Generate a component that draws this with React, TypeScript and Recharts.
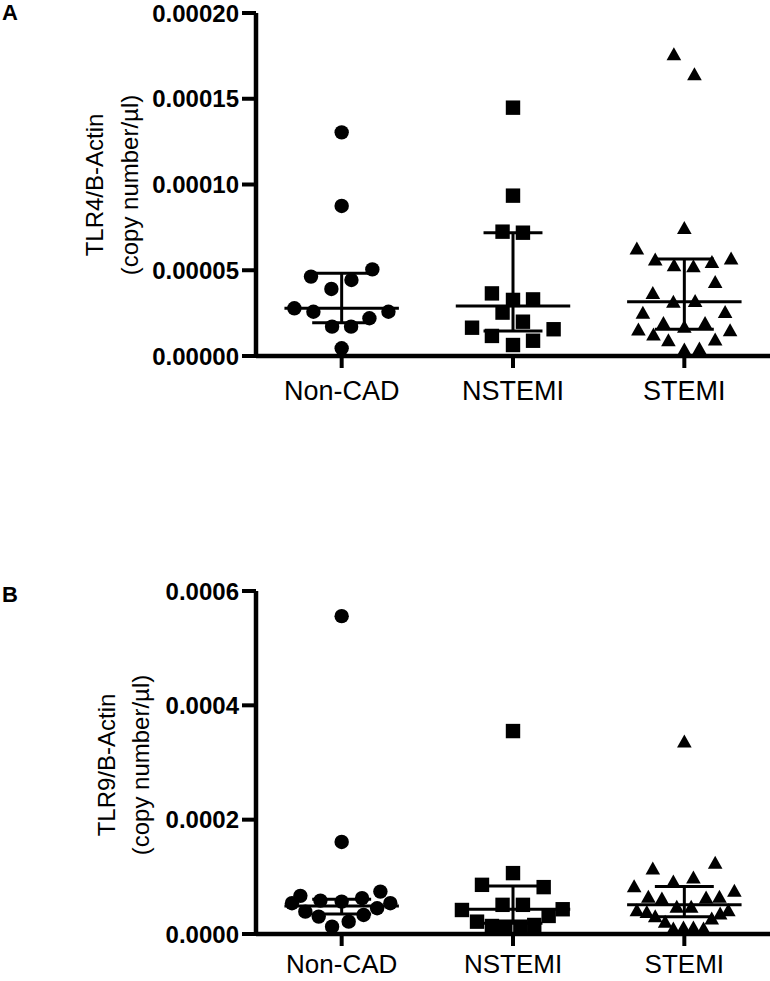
import React from 'react';
import { ScatterChart, Scatter, XAxis, YAxis, ReferenceLine } from 'recharts';

const FONT = '"Liberation Sans", Arial, Helvetica, sans-serif';

const categories = ['Non-CAD', 'NSTEMI', 'STEMI'];

// Panel A: TLR4/B-Actin
const tlr4Ticks = [0, 0.00005, 0.0001, 0.00015, 0.0002];
const tlr4NonCad = [13.04e-5, 8.75e-5, 5.05e-5, 4.63e-5, 4.43e-5, 3.91e-5, 2.78e-5, 2.58e-5, 2.58e-5, 2.2e-5, 1.71e-5, 1.71e-5, 0.45e-5];
const tlr4NonCadJitter = [0, 0, 0.179, -0.179, 0.057, -0.06, -0.276, -0.165, 0.273, 0.162, -0.056, 0.055, 0];
const tlr4Nstemi = [14.48e-5, 9.35e-5, 7.25e-5, 7.19e-5, 3.65e-5, 3.27e-5, 3.3e-5, 2.53e-5, 2.0e-5, 1.65e-5, 1.56e-5, 1.17e-5, 0.89e-5, 0.64e-5];
const tlr4NstemiJitter = [0, 0, -0.061, 0.058, -0.123, 0, 0.117, -0.061, 0.058, -0.239, 0.237, -0.123, 0.117, 0];
const tlr4Stemi = [17.61e-5, 16.44e-5, 7.48e-5, 6.28e-5, 5.64e-5, 5.31e-5, 5.25e-5, 5.5e-5, 5.7e-5, 4.33e-5, 3.69e-5, 3.17e-5, 3.22e-5, 2.53e-5, 2.58e-5, 1.94e-5, 1.94e-5, 1.71e-5, 1.56e-5, 1.27e-5, 1.52e-5, 0.93e-5, 0.97e-5, 0.39e-5, 0.45e-5];
const tlr4StemiJitter = [-0.061, 0.059, 0, -0.277, -0.17, -0.06, 0.053, 0.161, 0.273, 0.18, -0.184, -0.064, 0.063, -0.242, 0.238, -0.122, 0.121, 0, -0.268, -0.18, 0.267, -0.093, 0.18, 0, 0.088];
const tlr4Median = [2.78e-5, 2.92e-5, 3.17e-5];
const tlr4Q1 = [1.94e-5, 1.46e-5, 1.56e-5];
const tlr4Q3 = [4.82e-5, 7.19e-5, 5.66e-5];

// Panel B: TLR9/B-Actin
const tlr9Ticks = [0, 0.0002, 0.0004, 0.0006];
const tlr9NonCad = [5.56e-4, 1.61e-4, 0.667e-4, 0.539e-4, 0.391e-4, 0.304e-4, 0.128e-4, 0.216e-4, 0.333e-4, 0.451e-4, 0.539e-4, 0.742e-4, 0.626e-4, 0.567e-4, 0.584e-4];
const tlr9NonCadJitter = [0, 0, -0.241, -0.29, -0.212, -0.134, -0.056, 0.041, 0.128, 0.207, 0.284, 0.226, 0.119, 0, -0.124];
const tlr9Nstemi = [3.55e-4, 1.065e-4, 0.86e-4, 0.82e-4, 0.42e-4, 0.51e-4, 0.51e-4, 0.433e-4, 0.316e-4, 0.216e-4, 0.14e-4, 0.128e-4, 0.128e-4, 0.158e-4];
const tlr9NstemiJitter = [0, 0, -0.181, 0.179, -0.298, -0.061, 0.058, 0.29, 0.208, -0.21, -0.123, -0.045, 0.043, 0.124];
const tlr9Stemi = [3.37e-4, 1.25e-4, 1.15e-4, 0.84e-4, 0.92e-4, 0.99e-4, 0.76e-4, 0.654e-4, 0.626e-4, 0.644e-4, 0.654e-4, 0.42e-4, 0.39e-4, 0.48e-4, 0.48e-4, 0.42e-4, 0.316e-4, 0.216e-4, 0.363e-4, 0.275e-4, 0.1e-4, 0.118e-4, 0.118e-4, 0.1e-4];
const tlr9StemiJitter = [0, 0.18, -0.184, -0.293, -0.064, 0.053, 0.292, -0.21, -0.131, 0.127, 0.205, -0.277, -0.219, -0.044, 0.04, 0.257, -0.17, -0.112, 0.209, 0.16, -0.064, -0.005, 0.053, 0.112];
const tlr9Median = [0.49e-4, 0.433e-4, 0.51e-4];
const tlr9Q1 = [0.35e-4, 0.19e-4, 0.3e-4];
const tlr9Q3 = [0.61e-4, 0.84e-4, 0.83e-4];

const toPoints = (vals: number[], jit: number[], group: number) =>
  vals.map((v, i) => ({ x: group + 0.5 + jit[i], y: v }));

const CircleShape = (p: any) => <circle cx={p.cx} cy={p.cy} r={7.2} fill="#000" />;
const SquareShape = (p: any) => <rect x={p.cx - 7.2} y={p.cy - 7.2} width={14.4} height={14.4} fill="#000" />;
const TriangleShape = (p: any) => (
  <polygon points={`${p.cx},${p.cy - 6.8} ${p.cx + 7.3},${p.cy + 6.2} ${p.cx - 7.3},${p.cy + 6.2}`} fill="#000" />
);

const shapes = [CircleShape, SquareShape, TriangleShape];

type PanelProps = {
  groups: { vals: number[]; jit: number[] }[];
  ticks: number[];
  digits: number;
  median: number[];
  q1: number[];
  q3: number[];
  xTickMargin: number;
  xFontSize: number;
  chartHeight: number;
  xAxisHeight: number;
};

const Panel = ({ groups, ticks, digits, median, q1, q3, xTickMargin, xFontSize, chartHeight, xAxisHeight }: PanelProps) => {
  const lines: { x1: number; x2: number; y1: number; y2: number }[] = [];
  for (let g = 0; g < 3; g++) {
    const c = g + 0.5;
    lines.push({ x1: c - 0.334, x2: c + 0.334, y1: median[g], y2: median[g] });
    lines.push({ x1: c - 0.172, x2: c + 0.172, y1: q1[g], y2: q1[g] });
    lines.push({ x1: c - 0.172, x2: c + 0.172, y1: q3[g], y2: q3[g] });
    lines.push({ x1: c, x2: c, y1: q1[g], y2: q3[g] });
  }
  return (
    <ScatterChart width={770} height={chartHeight} margin={{ top: 13, right: 0, bottom: 0, left: 0 }}>
      <XAxis
        type="number"
        dataKey="x"
        domain={[0, 3]}
        ticks={[0.5, 1.5, 2.5]}
        interval={0}
        height={xAxisHeight}
        tickFormatter={(v: number) => categories[Math.floor(v)]}
        axisLine={{ stroke: '#000', strokeWidth: 4.5 }}
        tickLine={{ stroke: '#000', strokeWidth: 4 }}
        tickSize={12}
        tickMargin={xTickMargin}
        tick={{ fill: '#000', fontSize: xFontSize, fontFamily: FONT }}
      />
      <YAxis
        type="number"
        dataKey="y"
        domain={[ticks[0], ticks[ticks.length - 1]]}
        ticks={ticks}
        interval={0}
        width={256}
        tickFormatter={(v: number) => v.toFixed(digits)}
        axisLine={{ stroke: '#000', strokeWidth: 4.5 }}
        tickLine={{ stroke: '#000', strokeWidth: 4 }}
        tickSize={14}
        tickMargin={3}
        tick={{ fill: '#000', fontSize: 24, fontWeight: 'bold', fontFamily: FONT }}
      />
      {groups.map((gr, g) => (
        <Scatter
          key={g}
          data={toPoints(gr.vals, gr.jit, g)}
          shape={shapes[g]}
          isAnimationActive={false}
        />
      ))}
      {lines.map((l, i) => (
        <ReferenceLine
          key={i}
          segment={[{ x: l.x1, y: l.y1 }, { x: l.x2, y: l.y2 }]}
          stroke="#000"
          strokeWidth={3}
          ifOverflow="visible"
        />
      ))}
    </ScatterChart>
  );
};

export default function App() {
  return (
    <div style={{ position: 'absolute', left: 0, top: 0, width: 770, height: 981, background: '#fff', overflow: 'hidden' }}>
      <div style={{ position: 'absolute', left: 0, top: 0 }}>
        <Panel
          groups={[
            { vals: tlr4NonCad, jit: tlr4NonCadJitter },
            { vals: tlr4Nstemi, jit: tlr4NstemiJitter },
            { vals: tlr4Stemi, jit: tlr4StemiJitter },
          ]}
          ticks={tlr4Ticks}
          digits={5}
          median={tlr4Median}
          q1={tlr4Q1}
          q3={tlr4Q3}
          xTickMargin={13}
          xFontSize={27}
          chartHeight={420}
          xAxisHeight={64}
        />
      </div>
      <div style={{ position: 'absolute', left: 0, top: 578 }}>
        <Panel
          groups={[
            { vals: tlr9NonCad, jit: tlr9NonCadJitter },
            { vals: tlr9Nstemi, jit: tlr9NstemiJitter },
            { vals: tlr9Stemi, jit: tlr9StemiJitter },
          ]}
          ticks={tlr9Ticks}
          digits={4}
          median={tlr9Median}
          q1={tlr9Q1}
          q3={tlr9Q3}
          xTickMargin={9}
          xFontSize={26}
          chartHeight={403}
          xAxisHeight={47}
        />
      </div>
      <svg width={770} height={981} style={{ position: 'absolute', left: 0, top: 0, pointerEvents: 'none' }}>
        <text x={2} y={20} fontFamily={FONT} fontSize={22} fontWeight="bold" fill="#000">A</text>
        <text x={2} y={602} fontFamily={FONT} fontSize={22} fontWeight="bold" fill="#000">B</text>
        <text x={94.5} y={185} transform="rotate(-90 94.5 185)" textAnchor="middle" dominantBaseline="central" fontFamily={FONT} fontSize={24} fill="#000">TLR4/B-Actin</text>
        <text x={129} y={185} transform="rotate(-90 129 185)" textAnchor="middle" dominantBaseline="central" fontFamily={FONT} fontSize={24} fill="#000">(copy number/µl)</text>
        <text x={106.5} y={765} transform="rotate(-90 106.5 765)" textAnchor="middle" dominantBaseline="central" fontFamily={FONT} fontSize={24} fill="#000">TLR9/B-Actin</text>
        <text x={140.5} y={765} transform="rotate(-90 140.5 765)" textAnchor="middle" dominantBaseline="central" fontFamily={FONT} fontSize={24} fill="#000">(copy number/µl)</text>
      </svg>
    </div>
  );
}
